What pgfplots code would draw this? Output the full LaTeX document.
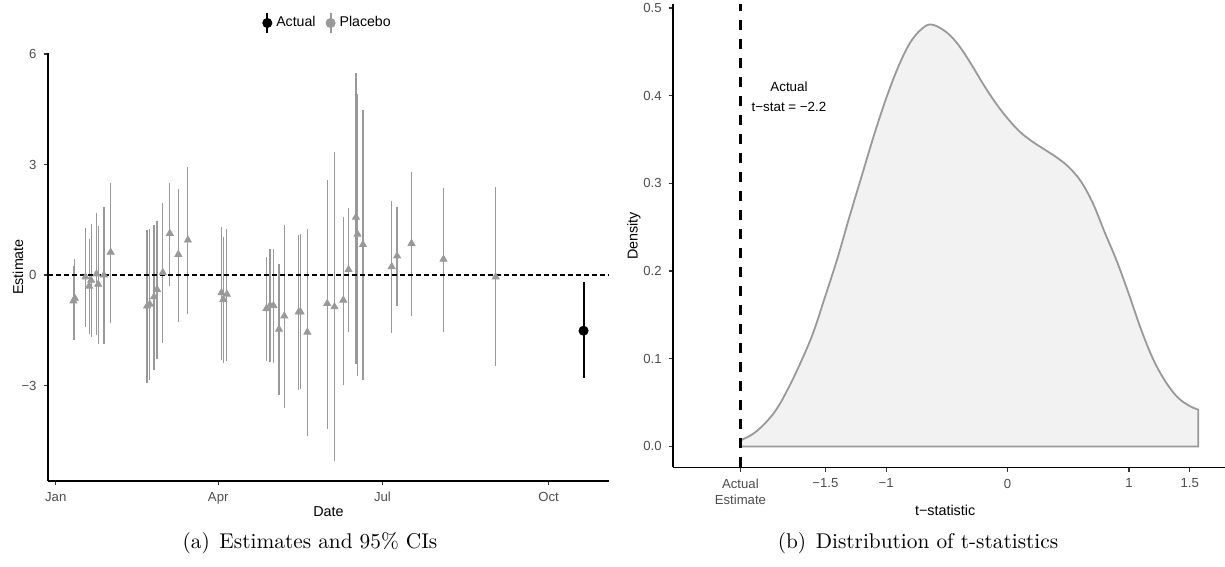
\documentclass[border=0pt]{standalone}
\usepackage{pgfplots}
\pgfplotsset{compat=1.18}
\usepackage{pgfplotstable}
\usepackage{fontspec}
\newfontfamily\arial{Liberation Sans}
\definecolor{gsixty}{HTML}{999999}
\definecolor{fillgray}{HTML}{F2F2F2}
\definecolor{tickgray}{HTML}{4D4D4D}
\definecolor{tickcol}{HTML}{333333}

\pgfplotstableread{
day est lo hi
9.8 -0.70 -1.77 0.24
10.6 -0.63 -1.77 0.43
16.5 -0.05 -1.40 1.29
18.5 -0.30 -1.60 0.97
19.6 -0.14 -1.69 1.39
22.6 0.03 -1.63 1.68
23.5 -0.25 -1.86 1.33
26.7 0.00 -1.86 1.86
30.4 0.62 -1.30 2.51
50.6 -0.84 -2.94 1.22
52.1 -0.79 -2.85 1.24
54.4 -0.59 -2.58 1.36
56.1 -0.39 -2.29 1.46
59.3 0.07 -1.84 1.97
63.2 1.13 -0.30 2.51
67.9 0.56 -1.27 2.35
73.2 0.95 -1.06 2.93
91.8 -0.48 -2.31 1.31
92.8 -0.66 -2.40 1.04
94.8 -0.52 -2.33 1.26
116.7 -0.91 -2.33 0.48
118.7 -0.82 -2.36 0.70
120.6 -0.83 -2.40 0.70
123.7 -1.47 -3.26 0.30
126.6 -1.11 -3.62 1.36
134.6 -1.00 -3.13 1.09
135.6 -1.00 -3.08 1.11
139.4 -1.55 -4.38 1.24
150.4 -0.77 -4.17 2.58
154.4 -0.86 -5.06 3.34
159.3 -0.68 -2.99 1.59
162.2 0.15 -1.54 1.81
166.3 1.57 -2.42 5.50
167.2 1.11 -2.74 4.92
170.2 0.83 -2.84 4.47
186.1 0.23 -1.57 2.01
189.1 0.52 -0.83 1.84
197.1 0.86 -1.11 2.79
214.8 0.43 -1.55 2.36
243.7 -0.05 -2.47 2.38
}\placebo

\pgfplotstableread{
day est lo hi
292.4 -1.51 -2.80 -0.19
}\actual

\pgfplotstableread{
t d
-2.20 0.007
-2.10 0.014
-2.00 0.026
-1.90 0.043
-1.80 0.068
-1.70 0.097
-1.60 0.130
-1.50 0.172
-1.40 0.215
-1.30 0.263
-1.20 0.309
-1.10 0.355
-1.00 0.397
-0.90 0.433
-0.80 0.461
-0.70 0.477
-0.62 0.481
-0.50 0.472
-0.40 0.457
-0.30 0.436
-0.20 0.413
-0.10 0.392
0.00 0.374
0.10 0.359
0.20 0.348
0.30 0.339
0.40 0.330
0.50 0.319
0.60 0.303
0.70 0.278
0.80 0.244
0.90 0.211
1.00 0.173
1.10 0.133
1.20 0.099
1.30 0.074
1.40 0.056
1.50 0.046
1.57 0.042
}\dens

\pgfplotsset{
  ggbase/.style={
    scale only axis, anchor=south west,
    axis x line*=bottom, axis y line*=left,
    axis line style={black, line width=0.6bp},
    tick align=outside, major tick length=2.2bp,
    tick style={tickcol, line width=0.6bp},
    ticklabel style={font=\arial\fontsize{6.6}{8}\selectfont, text=tickgray},
    label style={font=\arial\fontsize{7.2}{8}\selectfont, text=black},
    clip=false,
  }
}

\begin{document}
\begin{tikzpicture}
\useasboundingbox (0,0) rectangle (612.5bp,283.5bp);

\begin{axis}[ggbase,
  at={(24bp,43bp)}, width=280.5bp, height=214bp,
  xmin=-4.3, xmax=306.5, ymin=-5.59, ymax=6.03,
  xtick={0,90,181,273}, xticklabels={Jan,Apr,Jul,Oct},
  ytick={-3,0,3,6}, yticklabels={−3,0,3,6},
  xlabel={Date}, ylabel={Estimate},
  xlabel style={at={(axis description cs:0.5,-0.0724)}, anchor=center},
  ylabel style={at={(axis description cs:-0.0535,0.5)}, anchor=center},
  legend style={at={(axis description cs:0.5,1.070)}, anchor=center, draw=none, fill=none,
    legend columns=2, font=\arial\fontsize{7.1}{8}\selectfont,
    /tikz/every even column/.append style={column sep=3bp}},
]
\addlegendimage{legend image code/.code={\draw[black, line width=1bp] (0bp,-5bp)--(0bp,5bp); \fill[black] (0bp,0bp) circle (2.3bp);}}
\addlegendentry{Actual}
\addlegendimage{legend image code/.code={\draw[gsixty, line width=1bp] (0bp,-5bp)--(0bp,5bp); \fill[gsixty] (0bp,0bp) circle (2.3bp);}}
\addlegendentry{Placebo}

\addplot[forget plot, only marks, mark=triangle*, mark size=2bp, color=gsixty,
  mark options={gsixty},
  error bars/.cd, y dir=both, y explicit, error mark=none,
  error bar style={gsixty, line width=0.6bp}]
  table[x=day, y=est, y error plus expr=\thisrow{hi}-\thisrow{est},
        y error minus expr=\thisrow{est}-\thisrow{lo}] {\placebo};
\addplot[forget plot, black, line width=0.6bp, dash pattern=on 2.3bp off 1.7bp]
  coordinates {(-4.3,0) (306.5,0)};
\addplot[forget plot, only marks, mark=*, mark size=2.3bp, black,
  error bars/.cd, y dir=both, y explicit, error mark=none,
  error bar style={black, line width=1bp}]
  table[x=day, y=est, y error plus expr=\thisrow{hi}-\thisrow{est},
        y error minus expr=\thisrow{est}-\thisrow{lo}] {\actual};
\end{axis}

\begin{axis}[ggbase,
  at={(336.5bp,49.75bp)}, width=276bp, height=231.5bp,
  xmin=-2.755, xmax=1.79, ymin=-0.024, ymax=0.504,
  xtick={-2.2,-1.5,-1,0,1,1.5},
  xticklabels={Actual\\Estimate,−1.5,−1,0,1,1.5},
  xticklabel style={align=center, font=\arial\fontsize{6.6}{8}\selectfont},
  ytick={0,0.1,0.2,0.3,0.4,0.5},
  yticklabels={0.0,0.1,0.2,0.3,0.4,0.5},
  xlabel={t−statistic}, ylabel={Density},
  xlabel style={at={(axis description cs:0.493,-0.092)}, anchor=center},
  ylabel style={at={(axis description cs:-0.0707,0.5)}, anchor=center},
]
\addplot[draw=gsixty, fill=fillgray, line width=0.9bp, smooth, tension=0.6]
  table[x=t, y=d] {\dens} \closedcycle;
\addplot[black, line width=1.5bp, dash pattern=on 5bp off 4.5bp]
  coordinates {(-2.2,-0.024) (-2.2,0.504)};
\node[font=\arial\fontsize{6.7}{10}\selectfont, align=center] at (axis cs:-1.80,0.399)
  {Actual\\t−stat = −2.2};
\end{axis}

\node[font=\fontsize{10.7}{12}\selectfont, anchor=base] at (155bp,9.5bp)
  {(a)\hspace{0.45em}Estimates and 95\% CIs};
\node[font=\fontsize{10.7}{12}\selectfont, anchor=base] at (459bp,9.5bp)
  {(b)\hspace{0.45em}Distribution of t-statistics};
\end{tikzpicture}
\end{document}
